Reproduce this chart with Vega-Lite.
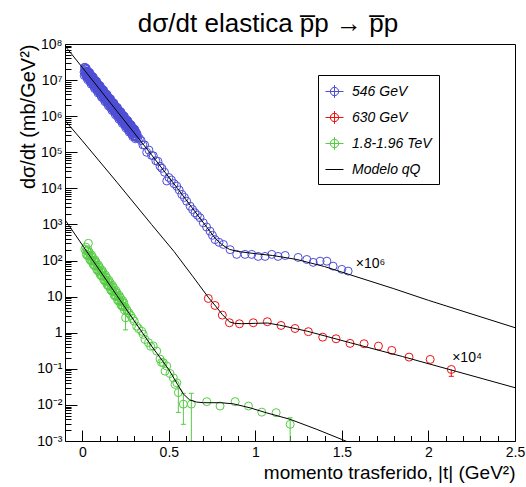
{
  "$schema": "https://vega.github.io/schema/vega-lite/v6.json",
  "width": 450,
  "height": 397,
  "autosize": {"type": "none"},
  "padding": {"left": 65, "top": 44, "right": 11, "bottom": 46},
  "background": "white",
  "config": {
    "view": {"stroke": "black", "strokeWidth": 1},
    "font": "Liberation Sans",
    "axis": {"labelFont": "Liberation Sans", "titleFont": "Liberation Sans", "labelColor": "black", "titleColor": "black", "tickColor": "black", "titleFontWeight": "normal", "grid": false, "domain": false, "labelOverlap": false, "labelFlush": false, "labelBound": false}
  },
  "title": {"text": "dσ/dt elastica p̅p → p̅p", "fontSize": 26, "font": "Liberation Sans", "fontWeight": "normal", "anchor": "middle", "frame": "group", "dx": -22, "baseline": "alphabetic", "offset": -21, "color": "black"},
  "resolve": {"axis": {"x": "independent"}},
  "datasets": {
    "pts": [
      {"s":"546 GeV","t":0.01,"y":1.66e7},{"s":"546 GeV","t":0.0125,"y":2.26e7},{"s":"546 GeV","t":0.015,"y":1.73e7},{"s":"546 GeV","t":0.0175,"y":2.02e7},
      {"s":"546 GeV","t":0.02,"y":2.12e7},{"s":"546 GeV","t":0.0225,"y":1.34e7},{"s":"546 GeV","t":0.025,"y":1.74e7},{"s":"546 GeV","t":0.0275,"y":1.38e7},
      {"s":"546 GeV","t":0.03,"y":1.26e7},{"s":"546 GeV","t":0.0325,"y":1.71e7},{"s":"546 GeV","t":0.035,"y":1.31e7},{"s":"546 GeV","t":0.0375,"y":1.53e7},
      {"s":"546 GeV","t":0.04,"y":1.61e7},{"s":"546 GeV","t":0.0425,"y":1.02e7},{"s":"546 GeV","t":0.045,"y":1.32e7},{"s":"546 GeV","t":0.0475,"y":1.04e7},
      {"s":"546 GeV","t":0.05,"y":9.49e6},{"s":"546 GeV","t":0.0525,"y":1.30e7},{"s":"546 GeV","t":0.055,"y":9.90e6},{"s":"546 GeV","t":0.0575,"y":1.16e7},
      {"s":"546 GeV","t":0.06,"y":1.22e7},{"s":"546 GeV","t":0.0625,"y":7.70e6},{"s":"546 GeV","t":0.065,"y":9.97e6},{"s":"546 GeV","t":0.0675,"y":7.88e6},
      {"s":"546 GeV","t":0.07,"y":7.19e6},{"s":"546 GeV","t":0.0725,"y":9.81e6},{"s":"546 GeV","t":0.075,"y":7.50e6},{"s":"546 GeV","t":0.0775,"y":8.76e6},
      {"s":"546 GeV","t":0.08,"y":9.2e6},{"s":"546 GeV","t":0.0825,"y":5.83e6},{"s":"546 GeV","t":0.085,"y":7.55e6},{"s":"546 GeV","t":0.0875,"y":5.97e6},
      {"s":"546 GeV","t":0.09,"y":5.44e6},{"s":"546 GeV","t":0.0925,"y":7.42e6},{"s":"546 GeV","t":0.095,"y":5.67e6},{"s":"546 GeV","t":0.0975,"y":6.63e6},
      {"s":"546 GeV","t":0.1,"y":6.96e6},{"s":"546 GeV","t":0.1025,"y":4.41e6},{"s":"546 GeV","t":0.105,"y":5.71e6},{"s":"546 GeV","t":0.1075,"y":4.52e6},
      {"s":"546 GeV","t":0.11,"y":4.12e6},{"s":"546 GeV","t":0.1125,"y":5.62e6},{"s":"546 GeV","t":0.115,"y":4.30e6},{"s":"546 GeV","t":0.1175,"y":5.02e6},
      {"s":"546 GeV","t":0.12,"y":5.28e6},{"s":"546 GeV","t":0.1225,"y":3.34e6},{"s":"546 GeV","t":0.125,"y":4.33e6},{"s":"546 GeV","t":0.1275,"y":3.42e6},
      {"s":"546 GeV","t":0.13,"y":3.12e6},{"s":"546 GeV","t":0.1325,"y":4.25e6},{"s":"546 GeV","t":0.135,"y":3.25e6},{"s":"546 GeV","t":0.1375,"y":3.80e6},
      {"s":"546 GeV","t":0.14,"y":3.99e6},{"s":"546 GeV","t":0.1425,"y":2.53e6},{"s":"546 GeV","t":0.145,"y":3.27e6},{"s":"546 GeV","t":0.1475,"y":2.59e6},
      {"s":"546 GeV","t":0.15,"y":2.36e6},{"s":"546 GeV","t":0.1525,"y":3.22e6},{"s":"546 GeV","t":0.155,"y":2.46e6},{"s":"546 GeV","t":0.1575,"y":2.88e6},
      {"s":"546 GeV","t":0.16,"y":3.03e6},{"s":"546 GeV","t":0.1625,"y":1.92e6},{"s":"546 GeV","t":0.165,"y":2.48e6},{"s":"546 GeV","t":0.1675,"y":1.96e6},
      {"s":"546 GeV","t":0.17,"y":1.79e6},{"s":"546 GeV","t":0.1725,"y":2.43e6},{"s":"546 GeV","t":0.175,"y":1.86e6},{"s":"546 GeV","t":0.1775,"y":2.18e6},
      {"s":"546 GeV","t":0.18,"y":2.29e6},{"s":"546 GeV","t":0.1825,"y":1.45e6},{"s":"546 GeV","t":0.185,"y":1.88e6},{"s":"546 GeV","t":0.1875,"y":1.48e6},
      {"s":"546 GeV","t":0.19,"y":1.35e6},{"s":"546 GeV","t":0.1925,"y":1.84e6},{"s":"546 GeV","t":0.195,"y":1.41e6},{"s":"546 GeV","t":0.1975,"y":1.65e6},
      {"s":"546 GeV","t":0.2,"y":1.73e6},{"s":"546 GeV","t":0.2025,"y":1.10e6},{"s":"546 GeV","t":0.205,"y":1.42e6},{"s":"546 GeV","t":0.2075,"y":1.12e6},
      {"s":"546 GeV","t":0.21,"y":1.02e6},{"s":"546 GeV","t":0.2125,"y":1.40e6},{"s":"546 GeV","t":0.215,"y":1.07e6},{"s":"546 GeV","t":0.2175,"y":1.25e6},
      {"s":"546 GeV","t":0.22,"y":1.31e6},{"s":"546 GeV","t":0.2225,"y":8.31e5},{"s":"546 GeV","t":0.225,"y":1.08e6},{"s":"546 GeV","t":0.2275,"y":8.51e5},
      {"s":"546 GeV","t":0.23,"y":7.76e5},{"s":"546 GeV","t":0.2325,"y":1.06e6},{"s":"546 GeV","t":0.235,"y":8.09e5},{"s":"546 GeV","t":0.2375,"y":9.46e5},
      {"s":"546 GeV","t":0.24,"y":9.93e5},{"s":"546 GeV","t":0.2425,"y":6.29e5},{"s":"546 GeV","t":0.245,"y":8.15e5},{"s":"546 GeV","t":0.2475,"y":6.44e5},
      {"s":"546 GeV","t":0.25,"y":5.87e5},{"s":"546 GeV","t":0.2525,"y":8.01e5},{"s":"546 GeV","t":0.255,"y":6.12e5},{"s":"546 GeV","t":0.2575,"y":7.16e5},
      {"s":"546 GeV","t":0.26,"y":7.51e5},{"s":"546 GeV","t":0.2625,"y":4.76e5},{"s":"546 GeV","t":0.265,"y":6.17e5},{"s":"546 GeV","t":0.2675,"y":4.87e5},
      {"s":"546 GeV","t":0.27,"y":4.45e5},{"s":"546 GeV","t":0.2725,"y":6.06e5},{"s":"546 GeV","t":0.275,"y":4.63e5},{"s":"546 GeV","t":0.2775,"y":5.42e5},
      {"s":"546 GeV","t":0.28,"y":5.69e5},{"s":"546 GeV","t":0.2825,"y":3.60e5},{"s":"546 GeV","t":0.285,"y":4.67e5},{"s":"546 GeV","t":0.2875,"y":3.69e5},
      {"s":"546 GeV","t":0.29,"y":3.37e5},{"s":"546 GeV","t":0.2925,"y":4.59e5},{"s":"546 GeV","t":0.295,"y":3.51e5},{"s":"546 GeV","t":0.2975,"y":4.10e5},
      {"s":"546 GeV","t":0.3,"y":4.31e5},{"s":"546 GeV","t":0.3025,"y":2.73e5},{"s":"546 GeV","t":0.305,"y":3.54e5},{"s":"546 GeV","t":0.3075,"y":2.80e5},
      {"s":"546 GeV","t":0.31,"y":2.55e5},{"s":"546 GeV","t":0.3125,"y":3.48e5},{"s":"546 GeV","t":0.315,"y":2.66e5},{"s":"546 GeV","t":0.3175,"y":3.11e5},
      {"s":"546 GeV","t":0.01125,"y":1.34e7},{"s":"546 GeV","t":0.01375,"y":1.85e7},{"s":"546 GeV","t":0.01625,"y":2.23e7},{"s":"546 GeV","t":0.01875,"y":1.38e7},
      {"s":"546 GeV","t":0.02125,"y":1.67e7},{"s":"546 GeV","t":0.02375,"y":2.09e7},{"s":"546 GeV","t":0.02625,"y":1.17e7},{"s":"546 GeV","t":0.02875,"y":1.68e7},
      {"s":"546 GeV","t":0.03125,"y":1.02e7},{"s":"546 GeV","t":0.03375,"y":1.40e7},{"s":"546 GeV","t":0.03625,"y":1.69e7},{"s":"546 GeV","t":0.03875,"y":1.05e7},
      {"s":"546 GeV","t":0.04125,"y":1.26e7},{"s":"546 GeV","t":0.04375,"y":1.58e7},{"s":"546 GeV","t":0.04625,"y":8.83e6},{"s":"546 GeV","t":0.04875,"y":1.27e7},
      {"s":"546 GeV","t":0.05125,"y":7.69e6},{"s":"546 GeV","t":0.05375,"y":1.06e7},{"s":"546 GeV","t":0.05625,"y":1.28e7},{"s":"546 GeV","t":0.05875,"y":7.91e6},
      {"s":"546 GeV","t":0.06125,"y":9.55e6},{"s":"546 GeV","t":0.06375,"y":1.20e7},{"s":"546 GeV","t":0.06625,"y":6.69e6},{"s":"546 GeV","t":0.06875,"y":9.64e6},
      {"s":"546 GeV","t":0.07125,"y":5.82e6},{"s":"546 GeV","t":0.07375,"y":8.03e6},{"s":"546 GeV","t":0.07625,"y":9.70e6},{"s":"546 GeV","t":0.07875,"y":5.99e6},
      {"s":"546 GeV","t":0.08125,"y":7.23e6},{"s":"546 GeV","t":0.08375,"y":9.08e6},{"s":"546 GeV","t":0.08625,"y":5.06e6},{"s":"546 GeV","t":0.08875,"y":7.30e6},
      {"s":"546 GeV","t":0.09125,"y":4.40e6},{"s":"546 GeV","t":0.09375,"y":6.07e6},{"s":"546 GeV","t":0.09625,"y":7.33e6},{"s":"546 GeV","t":0.09875,"y":4.53e6},
      {"s":"546 GeV","t":0.10125,"y":5.48e6},{"s":"546 GeV","t":0.10375,"y":6.87e6},{"s":"546 GeV","t":0.10625,"y":3.83e6},{"s":"546 GeV","t":0.10875,"y":5.53e6},
      {"s":"546 GeV","t":0.11125,"y":3.34e6},{"s":"546 GeV","t":0.11375,"y":4.60e6},{"s":"546 GeV","t":0.11625,"y":5.56e6},{"s":"546 GeV","t":0.11875,"y":3.43e6},
      {"s":"546 GeV","t":0.12125,"y":4.15e6},{"s":"546 GeV","t":0.12375,"y":5.21e6},{"s":"546 GeV","t":0.12625,"y":2.90e6},{"s":"546 GeV","t":0.12875,"y":4.19e6},
      {"s":"546 GeV","t":0.13125,"y":2.52e6},{"s":"546 GeV","t":0.13375,"y":3.48e6},{"s":"546 GeV","t":0.13625,"y":4.21e6},{"s":"546 GeV","t":0.13875,"y":2.60e6},
      {"s":"546 GeV","t":0.14125,"y":3.14e6},{"s":"546 GeV","t":0.14375,"y":3.94e6},{"s":"546 GeV","t":0.14625,"y":2.19e6},{"s":"546 GeV","t":0.14875,"y":3.16e6},
      {"s":"546 GeV","t":0.15125,"y":1.91e6},{"s":"546 GeV","t":0.15375,"y":2.64e6},{"s":"546 GeV","t":0.15625,"y":3.19e6},{"s":"546 GeV","t":0.15875,"y":1.97e6},
      {"s":"546 GeV","t":0.16125,"y":2.38e6},{"s":"546 GeV","t":0.16375,"y":2.99e6},{"s":"546 GeV","t":0.16625,"y":1.66e6},{"s":"546 GeV","t":0.16875,"y":2.40e6},
      {"s":"546 GeV","t":0.17125,"y":1.44e6},{"s":"546 GeV","t":0.17375,"y":1.99e6},{"s":"546 GeV","t":0.17625,"y":2.41e6},{"s":"546 GeV","t":0.17875,"y":1.49e6},
      {"s":"546 GeV","t":0.18125,"y":1.80e6},{"s":"546 GeV","t":0.18375,"y":2.26e6},{"s":"546 GeV","t":0.18625,"y":1.26e6},{"s":"546 GeV","t":0.18875,"y":1.82e6},
      {"s":"546 GeV","t":0.19125,"y":1.09e6},{"s":"546 GeV","t":0.19375,"y":1.51e6},{"s":"546 GeV","t":0.19625,"y":1.82e6},{"s":"546 GeV","t":0.19875,"y":1.13e6},
      {"s":"546 GeV","t":0.20125,"y":1.36e6},{"s":"546 GeV","t":0.20375,"y":1.71e6},{"s":"546 GeV","t":0.20625,"y":9.53e5},{"s":"546 GeV","t":0.20875,"y":1.37e6},
      {"s":"546 GeV","t":0.21125,"y":8.29e5},{"s":"546 GeV","t":0.21375,"y":1.14e6},{"s":"546 GeV","t":0.21625,"y":1.38e6},{"s":"546 GeV","t":0.21875,"y":8.53e5},
      {"s":"546 GeV","t":0.22125,"y":1.03e6},{"s":"546 GeV","t":0.22375,"y":1.29e6},{"s":"546 GeV","t":0.22625,"y":7.22e5},{"s":"546 GeV","t":0.22875,"y":1.04e6},
      {"s":"546 GeV","t":0.23125,"y":6.28e5},{"s":"546 GeV","t":0.23375,"y":8.66e5},{"s":"546 GeV","t":0.23625,"y":1.05e6},{"s":"546 GeV","t":0.23875,"y":6.46e5},
      {"s":"546 GeV","t":0.24125,"y":7.80e5},{"s":"546 GeV","t":0.24375,"y":9.80e5},{"s":"546 GeV","t":0.24625,"y":5.46e5},{"s":"546 GeV","t":0.24875,"y":7.88e5},
      {"s":"546 GeV","t":0.25125,"y":4.75e5},{"s":"546 GeV","t":0.25375,"y":6.56e5},{"s":"546 GeV","t":0.25625,"y":7.92e5},{"s":"546 GeV","t":0.25875,"y":4.89e5},
      {"s":"546 GeV","t":0.26125,"y":5.91e5},{"s":"546 GeV","t":0.26375,"y":7.42e5},{"s":"546 GeV","t":0.26625,"y":4.13e5},{"s":"546 GeV","t":0.26875,"y":5.96e5},
      {"s":"546 GeV","t":0.27125,"y":3.60e5},{"s":"546 GeV","t":0.27375,"y":4.96e5},{"s":"546 GeV","t":0.27625,"y":5.99e5},{"s":"546 GeV","t":0.27875,"y":3.70e5},
      {"s":"546 GeV","t":0.28125,"y":4.47e5},{"s":"546 GeV","t":0.28375,"y":5.61e5},{"s":"546 GeV","t":0.28625,"y":3.13e5},{"s":"546 GeV","t":0.28875,"y":4.51e5},
      {"s":"546 GeV","t":0.29125,"y":2.72e5},{"s":"546 GeV","t":0.29375,"y":3.76e5},{"s":"546 GeV","t":0.29625,"y":4.54e5},{"s":"546 GeV","t":0.29875,"y":2.80e5},
      {"s":"546 GeV","t":0.30125,"y":3.39e5},{"s":"546 GeV","t":0.30375,"y":4.26e5},{"s":"546 GeV","t":0.30625,"y":2.37e5},{"s":"546 GeV","t":0.30875,"y":3.42e5},
      {"s":"546 GeV","t":0.32,"y":2.5e5},{"s":"546 GeV","t":0.33,"y":2.4e5},{"s":"546 GeV","t":0.34,"y":2.1e5},{"s":"546 GeV","t":0.35,"y":1.6e5},{"s":"546 GeV","t":0.36,"y":1.6e5},{"s":"546 GeV","t":0.372,"y":1.0e5},{"s":"546 GeV","t":0.385,"y":1.15e5},{"s":"546 GeV","t":0.4,"y":8.2e4},{"s":"546 GeV","t":0.41,"y":8.0e4},{"s":"546 GeV","t":0.425,"y":5.8e4},{"s":"546 GeV","t":0.437,"y":5.6e4},{"s":"546 GeV","t":0.449,"y":4.1e4},{"s":"546 GeV","t":0.46,"y":3.6e4},{"s":"546 GeV","t":0.475,"y":2.8e4},{"s":"546 GeV","t":0.488,"y":1.6e4},{"s":"546 GeV","t":0.5,"y":2.0e4},{"s":"546 GeV","t":0.515,"y":1.7e4},{"s":"546 GeV","t":0.53,"y":1.35e4},{"s":"546 GeV","t":0.546,"y":1.15e4},{"s":"546 GeV","t":0.56,"y":9.0e3},{"s":"546 GeV","t":0.575,"y":6.8e3},{"s":"546 GeV","t":0.59,"y":5.6e3},{"s":"546 GeV","t":0.603,"y":4.4e3},{"s":"546 GeV","t":0.623,"y":3.2e3},{"s":"546 GeV","t":0.637,"y":2.6e3},{"s":"546 GeV","t":0.651,"y":2.1e3},{"s":"546 GeV","t":0.665,"y":1.8e3},{"s":"546 GeV","t":0.68,"y":1.53e3},{"s":"546 GeV","t":0.699,"y":1.11e3},{"s":"546 GeV","t":0.718,"y":850},{"s":"546 GeV","t":0.738,"y":650},{"s":"546 GeV","t":0.752,"y":500},{"s":"546 GeV","t":0.767,"y":380},{"s":"546 GeV","t":0.79,"y":320},{"s":"546 GeV","t":0.815,"y":280},{"s":"546 GeV","t":0.854,"y":200},{"s":"546 GeV","t":0.892,"y":148},{"s":"546 GeV","t":0.94,"y":148},{"s":"546 GeV","t":0.979,"y":148},{"s":"546 GeV","t":1.016,"y":130},{"s":"546 GeV","t":1.056,"y":130},{"s":"546 GeV","t":1.095,"y":148},{"s":"546 GeV","t":1.131,"y":130},{"s":"546 GeV","t":1.172,"y":138},{"s":"546 GeV","t":1.247,"y":122},{"s":"546 GeV","t":1.297,"y":107},{"s":"546 GeV","t":1.334,"y":89},{"s":"546 GeV","t":1.374,"y":96},{"s":"546 GeV","t":1.413,"y":96},{"s":"546 GeV","t":1.449,"y":70},{"s":"546 GeV","t":1.499,"y":57},{"s":"546 GeV","t":1.536,"y":51},
      {"s":"630 GeV","t":0.728,"y":8.9},{"s":"630 GeV","t":0.767,"y":5.7},{"s":"630 GeV","t":0.809,"y":3.08},{"s":"630 GeV","t":0.85,"y":1.89},{"s":"630 GeV","t":0.908,"y":1.77},{"s":"630 GeV","t":0.988,"y":1.89},{"s":"630 GeV","t":1.069,"y":2.02},{"s":"630 GeV","t":1.148,"y":1.59},{"s":"630 GeV","t":1.229,"y":1.31},{"s":"630 GeV","t":1.306,"y":1.07},{"s":"630 GeV","t":1.389,"y":0.755},{"s":"630 GeV","t":1.466,"y":0.68},{"s":"630 GeV","t":1.547,"y":0.506},{"s":"630 GeV","t":1.628,"y":0.495},{"s":"630 GeV","t":1.711,"y":0.426},{"s":"630 GeV","t":1.788,"y":0.324},{"s":"630 GeV","t":1.888,"y":0.211},{"s":"630 GeV","t":2.01,"y":0.182},{"s":"630 GeV","t":2.132,"y":0.096,"lo":0.062,"hi":0.096},
      {"s":"1.8-1.96 TeV","t":0.015,"y":205},
      {"s":"1.8-1.96 TeV","t":0.02,"y":235},{"s":"1.8-1.96 TeV","t":0.0233,"y":148},{"s":"1.8-1.96 TeV","t":0.0267,"y":184},
      {"s":"1.8-1.96 TeV","t":0.03,"y":136},{"s":"1.8-1.96 TeV","t":0.0333,"y":197},{"s":"1.8-1.96 TeV","t":0.035,"y":300},{"s":"1.8-1.96 TeV","t":0.0367,"y":134},
      {"s":"1.8-1.96 TeV","t":0.04,"y":170},{"s":"1.8-1.96 TeV","t":0.0433,"y":107},{"s":"1.8-1.96 TeV","t":0.0467,"y":134},
      {"s":"1.8-1.96 TeV","t":0.05,"y":98.8},{"s":"1.8-1.96 TeV","t":0.0533,"y":142.7},{"s":"1.8-1.96 TeV","t":0.0567,"y":97.4},
      {"s":"1.8-1.96 TeV","t":0.06,"y":123},{"s":"1.8-1.96 TeV","t":0.0633,"y":77.8},{"s":"1.8-1.96 TeV","t":0.0667,"y":96.8},
      {"s":"1.8-1.96 TeV","t":0.07,"y":71.6},{"s":"1.8-1.96 TeV","t":0.0733,"y":103.4},{"s":"1.8-1.96 TeV","t":0.0767,"y":70.5},
      {"s":"1.8-1.96 TeV","t":0.08,"y":89.2},{"s":"1.8-1.96 TeV","t":0.0833,"y":56.3},{"s":"1.8-1.96 TeV","t":0.0867,"y":70.1},
      {"s":"1.8-1.96 TeV","t":0.09,"y":51.8},{"s":"1.8-1.96 TeV","t":0.0933,"y":74.8},{"s":"1.8-1.96 TeV","t":0.0967,"y":51.1},
      {"s":"1.8-1.96 TeV","t":0.1,"y":64.6},{"s":"1.8-1.96 TeV","t":0.1033,"y":40.8},{"s":"1.8-1.96 TeV","t":0.1067,"y":50.7},
      {"s":"1.8-1.96 TeV","t":0.11,"y":37.6},{"s":"1.8-1.96 TeV","t":0.1133,"y":54.2},{"s":"1.8-1.96 TeV","t":0.1167,"y":37.0},
      {"s":"1.8-1.96 TeV","t":0.12,"y":46.8},{"s":"1.8-1.96 TeV","t":0.1233,"y":29.6},{"s":"1.8-1.96 TeV","t":0.1267,"y":36.8},
      {"s":"1.8-1.96 TeV","t":0.13,"y":27.2},{"s":"1.8-1.96 TeV","t":0.1333,"y":39.3},{"s":"1.8-1.96 TeV","t":0.1367,"y":26.8},
      {"s":"1.8-1.96 TeV","t":0.14,"y":33.8},{"s":"1.8-1.96 TeV","t":0.1433,"y":21.4},{"s":"1.8-1.96 TeV","t":0.1467,"y":26.6},
      {"s":"1.8-1.96 TeV","t":0.15,"y":19.7},{"s":"1.8-1.96 TeV","t":0.1533,"y":28.4},{"s":"1.8-1.96 TeV","t":0.1567,"y":19.4},
      {"s":"1.8-1.96 TeV","t":0.16,"y":24.6},{"s":"1.8-1.96 TeV","t":0.1633,"y":15.5},{"s":"1.8-1.96 TeV","t":0.1667,"y":19.3},
      {"s":"1.8-1.96 TeV","t":0.17,"y":14.3},{"s":"1.8-1.96 TeV","t":0.1733,"y":20.6},{"s":"1.8-1.96 TeV","t":0.1767,"y":14.1},
      {"s":"1.8-1.96 TeV","t":0.18,"y":17.8},{"s":"1.8-1.96 TeV","t":0.1833,"y":11.2},{"s":"1.8-1.96 TeV","t":0.1867,"y":14.0},
      {"s":"1.8-1.96 TeV","t":0.19,"y":10.3},{"s":"1.8-1.96 TeV","t":0.1933,"y":14.9},{"s":"1.8-1.96 TeV","t":0.1967,"y":10.2},
      {"s":"1.8-1.96 TeV","t":0.2,"y":12.8},{"s":"1.8-1.96 TeV","t":0.2033,"y":8.11},{"s":"1.8-1.96 TeV","t":0.2067,"y":10.1},
      {"s":"1.8-1.96 TeV","t":0.21,"y":7.48},{"s":"1.8-1.96 TeV","t":0.2133,"y":10.8},{"s":"1.8-1.96 TeV","t":0.2167,"y":7.37},
      {"s":"1.8-1.96 TeV","t":0.22,"y":9.31},{"s":"1.8-1.96 TeV","t":0.2233,"y":5.88},{"s":"1.8-1.96 TeV","t":0.2267,"y":7.32},
      {"s":"1.8-1.96 TeV","t":0.23,"y":5.42},{"s":"1.8-1.96 TeV","t":0.2333,"y":7.83},{"s":"1.8-1.96 TeV","t":0.2367,"y":5.34},
      {"s":"1.8-1.96 TeV","t":0.24,"y":6.74},{"s":"1.8-1.96 TeV","t":0.2433,"y":4.26},{"s":"1.8-1.96 TeV","t":0.2467,"y":5.30},
      {"s":"1.8-1.96 TeV","t":0.25,"y":2.6,"lo":1.2,"hi":4.0},{"s":"1.8-1.96 TeV","t":0.257,"y":4.4},{"s":"1.8-1.96 TeV","t":0.26,"y":4.0},{"s":"1.8-1.96 TeV","t":0.27,"y":3.5},{"s":"1.8-1.96 TeV","t":0.28,"y":3.0},{"s":"1.8-1.96 TeV","t":0.29,"y":2.5},{"s":"1.8-1.96 TeV","t":0.3,"y":2.1},{"s":"1.8-1.96 TeV","t":0.314,"y":1.52},{"s":"1.8-1.96 TeV","t":0.325,"y":1.3},{"s":"1.8-1.96 TeV","t":0.343,"y":1.1},{"s":"1.8-1.96 TeV","t":0.352,"y":0.9},{"s":"1.8-1.96 TeV","t":0.362,"y":0.65},{"s":"1.8-1.96 TeV","t":0.382,"y":0.53},{"s":"1.8-1.96 TeV","t":0.395,"y":0.42},{"s":"1.8-1.96 TeV","t":0.41,"y":0.43},{"s":"1.8-1.96 TeV","t":0.43,"y":0.31},{"s":"1.8-1.96 TeV","t":0.449,"y":0.186},{"s":"1.8-1.96 TeV","t":0.458,"y":0.15},{"s":"1.8-1.96 TeV","t":0.468,"y":0.148},{"s":"1.8-1.96 TeV","t":0.478,"y":0.086},{"s":"1.8-1.96 TeV","t":0.488,"y":0.119},{"s":"1.8-1.96 TeV","t":0.507,"y":0.074},{"s":"1.8-1.96 TeV","t":0.526,"y":0.056},{"s":"1.8-1.96 TeV","t":0.536,"y":0.037},{"s":"1.8-1.96 TeV","t":0.546,"y":0.041},{"s":"1.8-1.96 TeV","t":0.555,"y":0.022,"lo":0.0062,"hi":0.031},{"s":"1.8-1.96 TeV","t":0.584,"y":0.0105,"lo":0.0029,"hi":0.021},{"s":"1.8-1.96 TeV","t":0.63,"y":0.0105,"lo":0.0002,"hi":0.021},{"s":"1.8-1.96 TeV","t":0.719,"y":0.0123},{"s":"1.8-1.96 TeV","t":0.796,"y":0.0093},{"s":"1.8-1.96 TeV","t":0.883,"y":0.0123},{"s":"1.8-1.96 TeV","t":0.96,"y":0.0093},{"s":"1.8-1.96 TeV","t":1.037,"y":0.0063},{"s":"1.8-1.96 TeV","t":1.12,"y":0.0061},{"s":"1.8-1.96 TeV","t":1.201,"y":0.0029,"lo":0.0002,"hi":0.0044}
    ],
    "model": [
      {"c":"a","t":-0.1,"y":8.9e7},{"c":"a","t":0,"y":2.24e7},{"c":"a","t":0.2,"y":1.38e6},{"c":"a","t":0.4,"y":8.5e4},{"c":"a","t":0.55,"y":1.0e4},{"c":"a","t":0.65,"y":2.3e3},{"c":"a","t":0.72,"y":830},{"c":"a","t":0.77,"y":400},{"c":"a","t":0.81,"y":270},{"c":"a","t":0.85,"y":204},{"c":"a","t":0.9,"y":178},{"c":"a","t":1.0,"y":155},{"c":"a","t":1.1,"y":138},{"c":"a","t":1.24,"y":107},{"c":"a","t":1.4,"y":68},{"c":"a","t":1.55,"y":40},{"c":"a","t":1.8,"y":16.6},{"c":"a","t":2.0,"y":7.9},{"c":"a","t":2.5,"y":1.38},
      {"c":"b","t":-0.1,"y":7.6e5},{"c":"b","t":0,"y":2.09e5},{"c":"b","t":0.2,"y":1.48e4},{"c":"b","t":0.4,"y":1.0e3},{"c":"b","t":0.53,"y":178},{"c":"b","t":0.64,"y":35.5},{"c":"b","t":0.73,"y":9.3},{"c":"b","t":0.77,"y":5.5},{"c":"b","t":0.81,"y":3.16},{"c":"b","t":0.85,"y":2.0},{"c":"b","t":0.88,"y":1.82},{"c":"b","t":0.92,"y":1.78},{"c":"b","t":1.0,"y":1.82},{"c":"b","t":1.07,"y":1.86},{"c":"b","t":1.14,"y":1.62},{"c":"b","t":1.3,"y":1.1},{"c":"b","t":1.55,"y":0.525},{"c":"b","t":1.85,"y":0.219},{"c":"b","t":2.16,"y":0.085},{"c":"b","t":2.5,"y":0.03},
      {"c":"c","t":-0.1,"y":1350},{"c":"c","t":0,"y":270},{"c":"c","t":0.2,"y":10.7},{"c":"c","t":0.4,"y":0.427},{"c":"c","t":0.5,"y":0.0955},{"c":"c","t":0.55,"y":0.037},{"c":"c","t":0.584,"y":0.02},{"c":"c","t":0.62,"y":0.0138},{"c":"c","t":0.66,"y":0.012},{"c":"c","t":0.7,"y":0.0115},{"c":"c","t":0.8,"y":0.0115},{"c":"c","t":0.873,"y":0.0107},{"c":"c","t":0.969,"y":0.0083},{"c":"c","t":1.066,"y":0.006},{"c":"c","t":1.2,"y":0.004},{"c":"c","t":1.355,"y":0.0021},{"c":"c","t":1.5,"y":0.0011},{"c":"c","t":1.6,"y":0.0007}
    ]
  },
  "layer": [
    {
      "data": {"name": "pts"},
      "mark": {"type": "point", "shape": "circle", "filled": false, "size": 64, "strokeWidth": 1, "opacity": 1, "clip": true},
      "encoding": {
        "x": {"field": "t", "type": "quantitative", "title": "momento trasferido, |t| (GeV²)",
          "scale": {"domain": [-0.1, 2.5], "nice": false, "zero": false},
          "axis": {"orient": "bottom", "values": [0, 0.5, 1, 1.5, 2, 2.5],
            "labelExpr": "'' + datum.value",
            "tickSize": -11,
            "labelPadding": 15, "labelFontSize": 14, "labelFlush": false, "labelOverlap": false, "labelBound": false,
            "titleFontSize": 19, "titleAnchor": "end", "titleAlign": "right", "titleX": 450, "titleY": 37, "titleBaseline": "alphabetic"}},
        "y": {"field": "y", "type": "quantitative", "title": "dσ/dt (mb/GeV²)",
          "scale": {"type": "log", "domain": [0.001, 100000000], "nice": false},
          "axis": {"values": [0.001,0.002,0.003,0.004,0.005,0.006,0.007,0.008,0.009,0.01,0.02,0.03,0.04,0.05,0.06,0.07,0.08,0.09,0.1,0.2,0.3,0.4,0.5,0.6,0.7,0.8,0.9,1,2,3,4,5,6,7,8,9,10,20,30,40,50,60,70,80,90,100,200,300,400,500,600,700,800,900,1000,2000,3000,4000,5000,6000,7000,8000,9000,10000,20000,30000,40000,50000,60000,70000,80000,90000,100000,200000,300000,400000,500000,600000,700000,800000,900000,1000000,2000000,3000000,4000000,5000000,6000000,7000000,8000000,9000000,10000000,20000000,30000000,40000000,50000000,60000000,70000000,80000000,90000000,100000000],
            "labelExpr": "abs(log(datum.value)/LN10 - round(log(datum.value)/LN10)) < 0.0001 ? ['10⁻³','10⁻²','10⁻¹','1','10','10²','10³','10⁴','10⁵','10⁶','10⁷','10⁸'][round(log(datum.value)/LN10)+3] : ''",
            "tickSize": {"condition": {"test": "abs(log(datum.value)/LN10 - round(log(datum.value)/LN10)) < 0.0001", "value": -12}, "value": -6},
            "labelPadding": 15, "labelFontSize": 14, "labelOverlap": false, "labelBound": false, "labelFlush": false,
            "titleFontSize": 20, "titleAnchor": "end", "titleAlign": "right", "titleAngle": 270, "titleX": -37, "titleY": 0, "titleBaseline": "middle"}},
        "color": {"field": "s", "type": "nominal",
          "scale": {"domain": ["546 GeV", "630 GeV", "1.8-1.96 TeV", "Modelo qQ"], "range": ["#4d4dd6", "#f01010", "#55cc44", "#000000"]},
          "legend": {"title": null, "orient": "none", "legendX": 253, "legendY": 31, "padding": 7, "strokeColor": "black", "fillColor": "white",
            "labelFont": "Liberation Sans", "labelFontStyle": "italic", "labelFontSize": 14, "labelColor": "black", "labelOffset": 8, "rowPadding": 8,
            "symbolSize": 324, "symbolStrokeWidth": 1, "cornerRadius": 0,
            "symbolType": {"expr": "datum.value === 'Modelo qQ' ? 'M-1,0L1,0' : 'M-1,0L1,0M0,-0.72L0,0.72M0.46,0A0.46,0.46,0,0,1,0.325,0.325M0.325,0.325A0.46,0.46,0,0,1,0,0.46M0,0.46A0.46,0.46,0,0,1,-0.325,0.325M-0.325,0.325A0.46,0.46,0,0,1,-0.46,0M-0.46,0A0.46,0.46,0,0,1,-0.325,-0.325M-0.325,-0.325A0.46,0.46,0,0,1,0,-0.46M0,-0.46A0.46,0.46,0,0,1,0.325,-0.325M0.325,-0.325A0.46,0.46,0,0,1,0.46,0'"},
            "symbolFillColor": "transparent",
            "symbolStrokeColor": {"expr": "scale('color', datum.value)"}}}
      }
    },
    {
      "data": {"name": "pts"},
      "transform": [{"filter": "isValid(datum.lo)"}],
      "mark": {"type": "rule", "strokeWidth": 1, "clip": true},
      "encoding": {
        "x": {"field": "t", "type": "quantitative", "axis": null},
        "y": {"field": "lo", "type": "quantitative", "title": "dσ/dt (mb/GeV²)"},
        "y2": {"field": "hi"},
        "color": {"field": "s", "type": "nominal", "legend": null}
      }
    },
    {
      "data": {"name": "pts"},
      "transform": [{"filter": "isValid(datum.lo) && datum.lo >= 0.001 && log(datum.y/datum.lo)/LN10 > 0.16"}],
      "mark": {"type": "tick", "orient": "horizontal", "size": 5, "thickness": 1, "opacity": 1, "clip": true},
      "encoding": {
        "x": {"field": "t", "type": "quantitative", "axis": null},
        "y": {"field": "lo", "type": "quantitative", "title": "dσ/dt (mb/GeV²)"},
        "color": {"field": "s", "type": "nominal", "legend": null}
      }
    },
    {
      "data": {"name": "pts"},
      "transform": [{"filter": "isValid(datum.hi) && log(datum.hi/datum.y)/LN10 > 0.16"}],
      "mark": {"type": "tick", "orient": "horizontal", "size": 5, "thickness": 1, "opacity": 1, "clip": true},
      "encoding": {
        "x": {"field": "t", "type": "quantitative", "axis": null},
        "y": {"field": "hi", "type": "quantitative", "title": "dσ/dt (mb/GeV²)"},
        "color": {"field": "s", "type": "nominal", "legend": null}
      }
    },
    {
      "data": {"name": "model"},
      "mark": {"type": "line", "strokeWidth": 1, "clip": true},
      "encoding": {
        "x": {"field": "t", "type": "quantitative",
          "axis": {"orient": "bottom", "values": [0.1,0.2,0.3,0.4,0.6,0.7,0.8,0.9,1.1,1.2,1.3,1.4,1.6,1.7,1.8,1.9,2.1,2.2,2.3,2.4], "labels": false, "tickSize": -5.5, "title": null, "grid": false, "domain": false}},
        "y": {"field": "y", "type": "quantitative", "title": "dσ/dt (mb/GeV²)"},
        "detail": {"field": "c"},
        "color": {"datum": "Modelo qQ", "legend": null}
      }
    },
    {
      "data": {"values": [{}]},
      "mark": {"type": "text", "align": "left", "baseline": "middle", "fontSize": 14, "font": "Liberation Sans", "color": "black"},
      "encoding": {
        "x": {"datum": 1.58, "axis": null},
        "y": {"datum": 78},
        "text": {"value": "×10⁶"}
      }
    },
    {
      "data": {"values": [{}]},
      "mark": {"type": "text", "align": "left", "baseline": "middle", "fontSize": 14, "font": "Liberation Sans", "color": "black"},
      "encoding": {
        "x": {"datum": 2.137, "axis": null},
        "y": {"datum": 0.195},
        "text": {"value": "×10⁴"}
      }
    }
  ]
}
